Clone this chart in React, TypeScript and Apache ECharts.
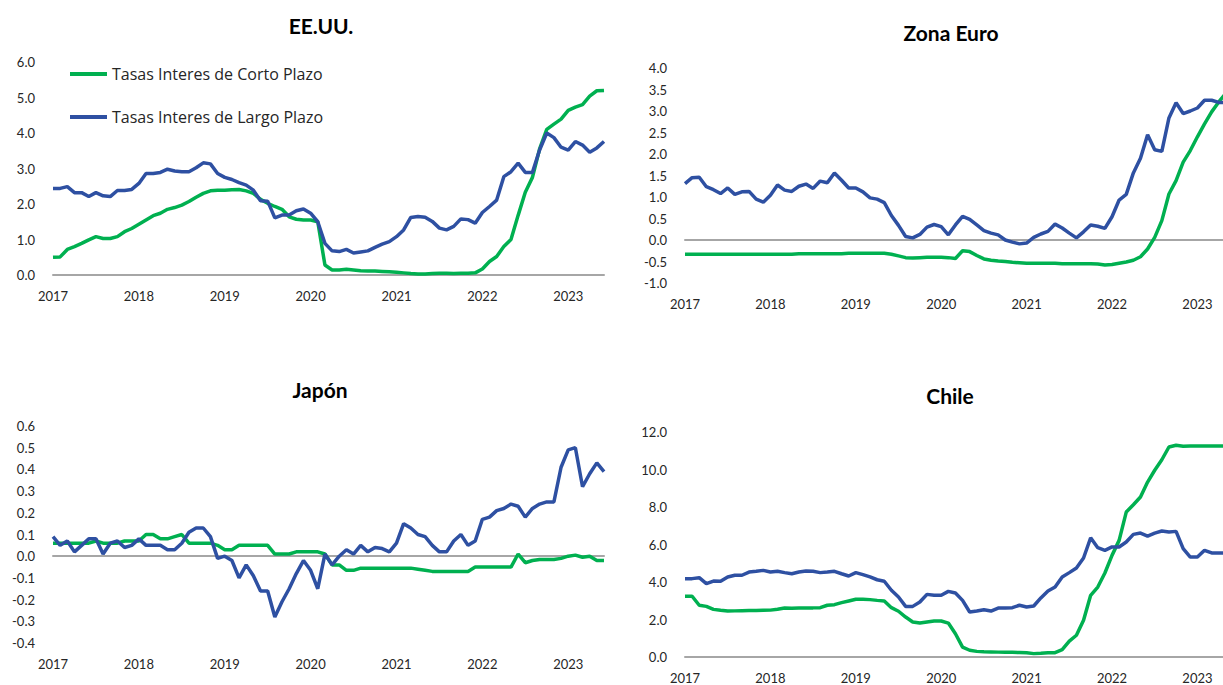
import React, { useEffect, useRef } from "react";
import * as echarts from "echarts";

const years = ["2017", "2018", "2019", "2020", "2021", "2022", "2023"];
const monthCount = 78; // Jan 2017 .. Jun 2023
const categories: string[] = [];
for (const y of years) {
  for (let m = 1; m <= 12; m++) {
    if (categories.length < monthCount) categories.push(`${y}-${String(m).padStart(2, "0")}`);
  }
}

const nameCorto = "Tasas Interes de Corto Plazo";
const nameLargo = "Tasas Interes de Largo Plazo";
const panelTitles = ["EE.UU.", "Zona Euro", "Japón", "Chile"];

// EE.UU.
const usCorto = [
  0.50, 0.51, 0.72, 0.80, 0.89, 0.99, 1.08, 1.03, 1.03, 1.08, 1.22, 1.31,
  1.43, 1.55, 1.67, 1.74, 1.85, 1.90, 1.97, 2.07, 2.19, 2.30, 2.37, 2.39,
  2.39, 2.40, 2.41, 2.37, 2.30, 2.13, 2.02, 1.93, 1.85, 1.64, 1.57, 1.55,
  1.55, 1.50, 0.28, 0.14, 0.14, 0.16, 0.14, 0.12, 0.11, 0.11, 0.10, 0.09,
  0.08, 0.06, 0.04, 0.03, 0.03, 0.04, 0.05, 0.05, 0.04, 0.05, 0.05, 0.06,
  0.17, 0.38, 0.52, 0.80, 1.00, 1.68, 2.33, 2.75, 3.55, 4.10, 4.25, 4.39,
  4.64, 4.73, 4.80, 5.04, 5.19, 5.20,
];
const usLargo = [
  2.44, 2.44, 2.49, 2.32, 2.32, 2.21, 2.32, 2.23, 2.21, 2.38, 2.38, 2.41,
  2.58, 2.86, 2.86, 2.89, 2.98, 2.93, 2.91, 2.91, 3.02, 3.16, 3.13, 2.86,
  2.75, 2.69, 2.60, 2.53, 2.39, 2.09, 2.08, 1.61, 1.69, 1.69, 1.81, 1.86,
  1.74, 1.50, 0.89, 0.68, 0.66, 0.72, 0.62, 0.65, 0.68, 0.78, 0.87, 0.94,
  1.08, 1.27, 1.62, 1.65, 1.63, 1.51, 1.32, 1.27, 1.37, 1.58, 1.56, 1.46,
  1.76, 1.93, 2.11, 2.77, 2.91, 3.15, 2.89, 2.89, 3.52, 4.00, 3.87, 3.60,
  3.52, 3.76, 3.66, 3.46, 3.58, 3.76,
];

// Zona Euro
const euCorto = [
  -0.33, -0.33, -0.33, -0.33, -0.33, -0.33, -0.33, -0.33, -0.33, -0.33, -0.33, -0.33,
  -0.33, -0.33, -0.33, -0.33, -0.32, -0.32, -0.32, -0.32, -0.32, -0.32, -0.32, -0.31,
  -0.31, -0.31, -0.31, -0.31, -0.31, -0.33, -0.37, -0.41, -0.42, -0.41, -0.40, -0.40,
  -0.40, -0.41, -0.43, -0.25, -0.27, -0.36, -0.44, -0.47, -0.49, -0.50, -0.52, -0.53,
  -0.54, -0.54, -0.54, -0.54, -0.54, -0.55, -0.55, -0.55, -0.55, -0.55, -0.56, -0.58,
  -0.57, -0.54, -0.51, -0.47, -0.39, -0.21, 0.06, 0.45, 1.07, 1.38, 1.81, 2.08,
  2.40, 2.70, 2.98, 3.21, 3.41, 3.58,
];
const euLargo = [
  1.31, 1.45, 1.46, 1.24, 1.17, 1.08, 1.21, 1.06, 1.12, 1.13, 0.95, 0.88,
  1.04, 1.28, 1.16, 1.13, 1.25, 1.30, 1.20, 1.37, 1.33, 1.56, 1.39, 1.21,
  1.21, 1.12, 0.98, 0.95, 0.87, 0.57, 0.34, 0.08, 0.05, 0.13, 0.30, 0.36,
  0.31, 0.12, 0.35, 0.55, 0.48, 0.35, 0.22, 0.16, 0.12, 0.00, -0.05, -0.09,
  -0.07, 0.06, 0.14, 0.20, 0.37, 0.28, 0.16, 0.05, 0.19, 0.35, 0.32, 0.27,
  0.54, 0.93, 1.06, 1.56, 1.90, 2.45, 2.10, 2.06, 2.84, 3.19, 2.94, 3.00,
  3.07, 3.25, 3.25, 3.20, 3.20, 3.20,
];

// Japón
const jpCorto = [
  0.06, 0.06, 0.06, 0.06, 0.06, 0.06, 0.07, 0.06, 0.06, 0.06, 0.07, 0.07,
  0.07, 0.10, 0.10, 0.08, 0.08, 0.09, 0.10, 0.06, 0.06, 0.06, 0.06, 0.05,
  0.03, 0.03, 0.05, 0.05, 0.05, 0.05, 0.05, 0.01, 0.01, 0.01, 0.02, 0.02,
  0.02, 0.02, 0.01, -0.04, -0.04, -0.065, -0.065, -0.055, -0.055, -0.055, -0.055, -0.055,
  -0.055, -0.055, -0.055, -0.06, -0.065, -0.07, -0.07, -0.07, -0.07, -0.07, -0.07, -0.05,
  -0.05, -0.05, -0.05, -0.05, -0.05, 0.01, -0.03, -0.02, -0.015, -0.015, -0.015, -0.01,
  0.0, 0.005, -0.005, 0.0, -0.02, -0.02,
];
const jpLargo = [
  0.09, 0.05, 0.07, 0.02, 0.05, 0.08, 0.08, 0.01, 0.06, 0.07, 0.04, 0.05,
  0.08, 0.05, 0.05, 0.05, 0.03, 0.03, 0.06, 0.11, 0.13, 0.13, 0.09, -0.01,
  0.00, -0.02, -0.10, -0.04, -0.09, -0.16, -0.16, -0.28, -0.21, -0.15, -0.08, -0.02,
  -0.065, -0.15, 0.01, -0.04, 0.00, 0.03, 0.01, 0.05, 0.02, 0.04, 0.035, 0.02,
  0.06, 0.15, 0.13, 0.10, 0.09, 0.05, 0.02, 0.02, 0.07, 0.10, 0.05, 0.07,
  0.17, 0.18, 0.21, 0.22, 0.24, 0.23, 0.18, 0.22, 0.24, 0.25, 0.25, 0.41,
  0.49, 0.50, 0.32, 0.38, 0.43, 0.39,
];

// Chile
const clCorto = [
  3.24, 3.24, 2.76, 2.70, 2.54, 2.49, 2.45, 2.46, 2.47, 2.48, 2.48, 2.49,
  2.50, 2.55, 2.61, 2.60, 2.61, 2.62, 2.62, 2.63, 2.76, 2.79, 2.90, 2.99,
  3.08, 3.08, 3.06, 3.02, 2.99, 2.63, 2.44, 2.13, 1.87, 1.81, 1.87, 1.92,
  1.92, 1.81, 1.24, 0.53, 0.36, 0.30, 0.28, 0.27, 0.26, 0.25, 0.25, 0.24,
  0.23, 0.18, 0.20, 0.23, 0.23, 0.39, 0.85, 1.16, 1.96, 3.29, 3.73, 4.48,
  5.42, 6.22, 7.73, 8.12, 8.53, 9.33, 9.96, 10.52, 11.20, 11.29, 11.24, 11.25,
  11.25, 11.25, 11.26, 11.26, 11.26, 11.26,
];
const clLargo = [
  4.18, 4.18, 4.23, 3.91, 4.05, 4.04, 4.27, 4.36, 4.36, 4.53, 4.57, 4.62,
  4.53, 4.57, 4.50, 4.44, 4.53, 4.59, 4.57, 4.50, 4.53, 4.57, 4.44, 4.32,
  4.50, 4.39, 4.27, 4.12, 4.04, 3.56, 3.20, 2.70, 2.70, 2.93, 3.34, 3.29,
  3.29, 3.50, 3.41, 3.02, 2.40, 2.45, 2.52, 2.45, 2.61, 2.61, 2.63, 2.76,
  2.67, 2.72, 3.15, 3.52, 3.73, 4.27, 4.50, 4.75, 5.28, 6.36, 5.83, 5.69,
  5.87, 5.87, 6.13, 6.54, 6.61, 6.45, 6.61, 6.72, 6.67, 6.70, 5.78, 5.33,
  5.33, 5.69, 5.55, 5.55, 5.55, 5.55,
];

const yMins = [0, -1, -0.4, 0];
const yMaxs = [6, 4, 0.6, 12];
const yIntervals = [1, 0.5, 0.1, 2];

const cortoSeries = [usCorto, euCorto, jpCorto, clCorto];
const largoSeries = [usLargo, euLargo, jpLargo, clLargo];

const GREEN = "#00B050";
const BLUE = "#2E50A2";
const FONT = 'Lato, "Noto Sans", "DejaVu Sans", sans-serif';
const LEGEND_FONT = '"Open Sans", Lato, "Noto Sans", sans-serif';

export default function App() {
  const ref = useRef<HTMLDivElement>(null);

  useEffect(() => {
    if (!ref.current) return;
    const chart = echarts.init(ref.current, undefined, { renderer: "svg" });

    const grids = [
      { left: 53, top: 62, width: 551, height: 213 },
      { left: 685, top: 68, width: 548, height: 215 },
      { left: 53, top: 426, width: 551, height: 217 },
      { left: 685, top: 432, width: 548, height: 225 },
    ];
    const titlePos = [
      [321, 25],
      [951, 32],
      [320, 389],
      [950, 395],
    ];

    const xAxis: any[] = [];
    const yAxis: any[] = [];
    const series: any[] = [];
    grids.forEach((_, g) => {
      xAxis.push({
        type: "category",
        gridIndex: g,
        data: categories,
        boundaryGap: false,
        position: "bottom",
        axisLine: { show: false, onZero: false },
        axisTick: { show: false },
        splitLine: { show: false },
        axisLabel: {
          interval: 11,
          margin: 14,
          fontSize: 13,
          color: "#262626",
          fontFamily: FONT,
          formatter: (v: string) => v.slice(0, 4),
        },
      });
      xAxis.push({
        type: "category",
        gridIndex: g,
        data: categories,
        boundaryGap: false,
        position: "top",
        axisLine: {
          show: true,
          onZero: true,
          lineStyle: { color: "#A6A6A6", width: 2 },
        },
        axisTick: { show: false },
        axisLabel: { show: false },
        splitLine: { show: false },
      });
      yAxis.push({
        type: "value",
        gridIndex: g,
        min: yMins[g],
        max: yMaxs[g],
        interval: yIntervals[g],
        axisLine: { show: false },
        axisTick: { show: false },
        splitLine: { show: false },
        axisLabel: {
          margin: 18,
          fontSize: 13,
          color: "#262626",
          fontFamily: FONT,
          formatter: (v: number) => (Math.abs(v) < 1e-9 ? "0.0" : v.toFixed(1)),
        },
      });
      series.push({
        type: "line",
        name: nameCorto,
        xAxisIndex: 2 * g,
        yAxisIndex: g,
        data: cortoSeries[g],
        symbol: "none",
        lineStyle: { color: GREEN, width: 3.5 },
        itemStyle: { color: GREEN },
      });
      series.push({
        type: "line",
        name: nameLargo,
        xAxisIndex: 2 * g,
        yAxisIndex: g,
        data: largoSeries[g],
        symbol: "none",
        lineStyle: { color: BLUE, width: 3.5 },
        itemStyle: { color: BLUE },
      });
    });

    chart.setOption({
      animation: false,
      backgroundColor: "#ffffff",
      grid: grids,
      xAxis,
      yAxis,
      series,
      legend: {
        data: [nameCorto, nameLargo],
        orient: "vertical",
        left: 65,
        top: 61,
        itemWidth: 37,
        itemHeight: 4,
        itemGap: 27,
        icon: "rect",
        selectedMode: false,
        textStyle: { fontSize: 16, color: "#262626", fontFamily: LEGEND_FONT },
      },
      graphic: panelTitles.map((t, i) => ({
        type: "text",
        x: titlePos[i][0],
        y: titlePos[i][1],
        style: {
          text: t,
          fill: "#000000",
          font: `bold 21px ${FONT}`,
          textAlign: "center",
          textVerticalAlign: "middle",
        },
      })),
    });

    return () => chart.dispose();
  }, []);

  return (
    <div style={{ position: "fixed", left: 0, top: 0, width: 1223, height: 685, overflow: "hidden", background: "#fff" }}>
      <div ref={ref} style={{ position: "absolute", left: 0, top: 0, width: 1245, height: 685 }} />
    </div>
  );
}
